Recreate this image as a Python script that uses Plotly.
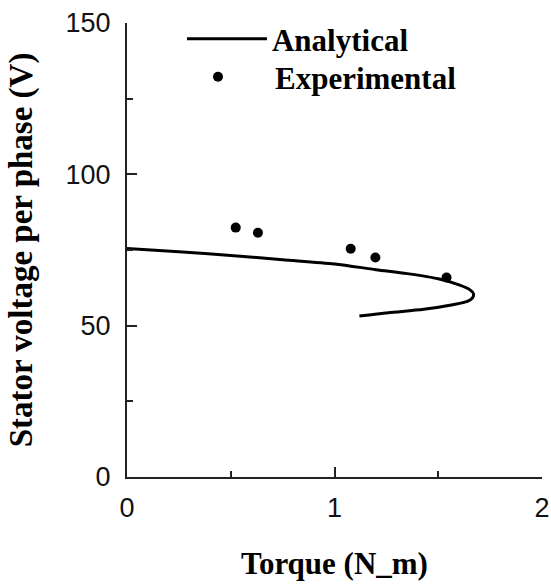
import plotly.graph_objects as go

# Analytical curve (torque in N·m, voltage in V)
analytical_torque = [0.0, 0.25, 0.5, 0.75, 1.0, 1.2, 1.35, 1.5, 1.6, 1.65, 1.67, 1.665, 1.64, 1.57, 1.43, 1.26, 1.12]
analytical_voltage = [75.5, 74.4, 73.2, 71.8, 70.4, 68.5, 67.2, 65.5, 63.5, 62.0, 60.5, 59.2, 58.0, 56.9, 55.4, 54.3, 53.2]

# Experimental points
exp_torque = [0.524, 0.631, 1.078, 1.197, 1.540]
exp_voltage = [82.4, 80.7, 75.4, 72.5, 65.9]

x_ticks = [0, 1, 2]
y_ticks = [0, 50, 100, 150]

serif = "Liberation Serif"
sans = "Liberation Sans"
legend_font = dict(family=serif, size=31, color="black", weight="bold")

fig = go.Figure()
fig.add_trace(go.Scatter(
    x=analytical_torque, y=analytical_voltage, mode="lines",
    name="Analytical", legend="legend",
    line=dict(color="black", width=3, shape="spline", smoothing=0.8),
))
fig.add_trace(go.Scatter(
    x=exp_torque, y=exp_voltage, mode="markers",
    name="Experimental", legend="legend2",
    marker=dict(color="black", size=10),
))

fig.update_layout(
    width=551, height=587,
    margin=dict(l=127, r=9, t=23, b=110, autoexpand=False),
    paper_bgcolor="white", plot_bgcolor="white",
    showlegend=True,
    legend=dict(
        x=0.1325, y=1.0242, xanchor="left", yanchor="top",
        font=legend_font, bgcolor="rgba(0,0,0,0)", itemwidth=80,
    ),
    legend2=dict(
        x=0.0819, y=0.9405, xanchor="left", yanchor="top",
        font=legend_font, bgcolor="rgba(0,0,0,0)", itemwidth=104,
    ),
    xaxis=dict(
        range=[0, 2], tickvals=x_ticks, ticks="inside", ticklen=10, tickwidth=1.5,
        tickcolor="#222", showline=True, linecolor="#222", linewidth=2,
        showgrid=False, zeroline=False, automargin=False, ticklabelstandoff=6,
        tickfont=dict(family=sans, size=27, color="#111"),
        minor=dict(ticks="inside", ticklen=6, dtick=0.5, tickcolor="#222", showgrid=False),
        title=dict(text="Torque (N_m)", standoff=30,
                   font=dict(family=serif, size=31, color="black", weight="bold")),
    ),
    yaxis=dict(
        range=[0, 150], tickvals=y_ticks, ticks="inside", ticklen=10, tickwidth=1.5,
        tickcolor="#222", showline=True, linecolor="#222", linewidth=2,
        showgrid=False, zeroline=False, automargin=False, ticklabelstandoff=9,
        tickfont=dict(family=sans, size=27, color="#111"),
        minor=dict(ticks="inside", ticklen=6, dtick=25, tickcolor="#222", showgrid=False),
        title=dict(text="Stator voltage per phase (V)", standoff=23,
                   font=dict(family=serif, size=33, color="black", weight="bold")),
    ),
)

fig.write_html(
    "out.html",
    config={"displayModeBar": False},
    post_script="document.body.style.margin='0';document.body.style.overflow='hidden';",
)
